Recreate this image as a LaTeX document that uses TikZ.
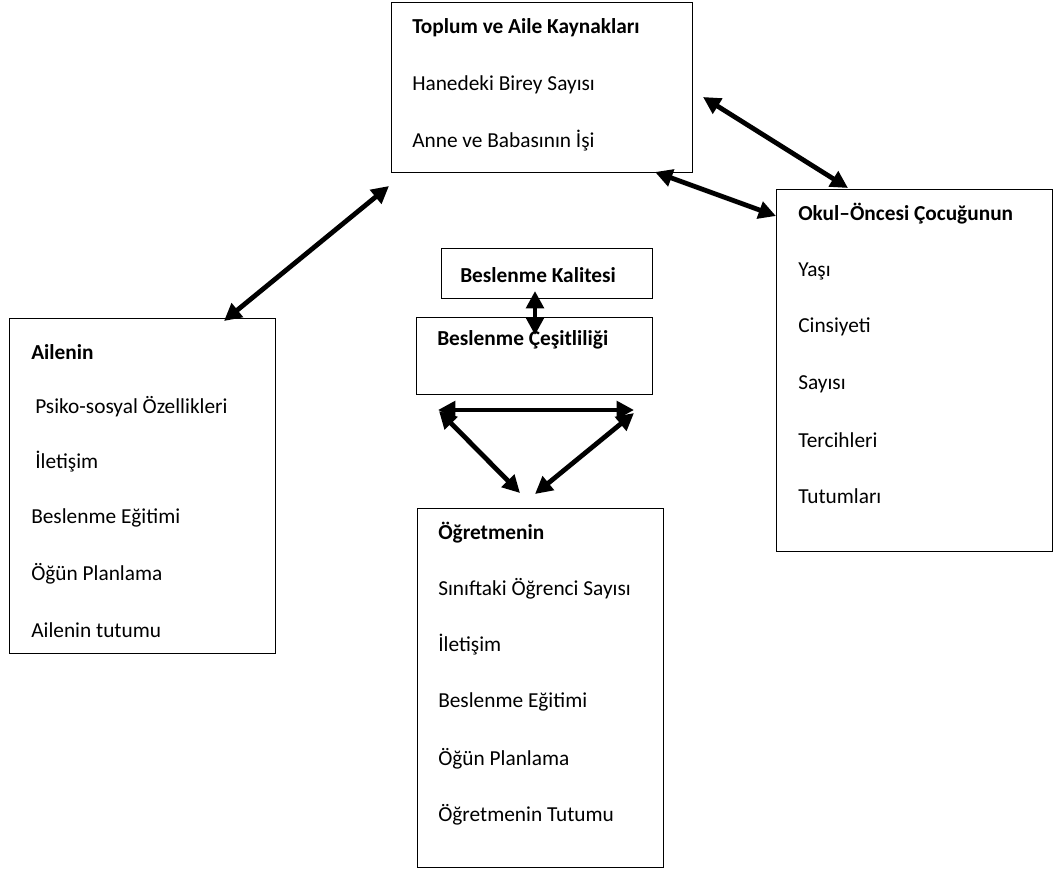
\documentclass[tikz,border=0pt]{standalone}
\usepackage{fontspec}
\setmainfont{Carlito}
\usetikzlibrary{arrows.meta}
\newcommand{\boxfont}{\fontsize{16}{19}\selectfont}
\tikzset{
  box/.style={draw, line width=1.1pt, anchor=north west, inner sep=0pt},
  head/.style={font=\boxfont\bfseries, anchor=west, inner sep=0pt},
  item/.style={font=\boxfont, anchor=west, inner sep=0pt},
  link/.style={{Triangle[length=13pt,width=13pt]}-{Triangle[length=13pt,width=13pt]}, line width=3.6pt}
}
\begin{document}
\begin{tikzpicture}[x=0.75pt, y=-0.75pt]
\useasboundingbox (0,0) rectangle (1054,872);
% Boxes
\node[box, minimum width=301*0.75pt, minimum height=170*0.75pt] (kaynak) at (391,2) {};
\node[box, minimum width=276*0.75pt, minimum height=362*0.75pt] (cocuk) at (776,189) {};
\node[box, minimum width=266*0.75pt, minimum height=335*0.75pt] (aile) at (9,318) {};
\node[box, minimum width=211*0.75pt, minimum height=50*0.75pt] (kalite) at (441,248) {};
\node[box, minimum width=236*0.75pt, minimum height=77*0.75pt] (cesit) at (416,317) {};
\node[box, minimum width=246*0.75pt, minimum height=359*0.75pt] (ogretmen) at (417,508) {};

% Texts
\node[head] (kaynak0) at (412,28) {Toplum ve Aile Kaynakları};
\node[item] (kaynak1) at (412,85) {Hanedeki Birey Sayısı};
\node[item] (kaynak2) at (412,141) {Anne ve Babasının İşi};

\node[head] (cocuk0) at (798,214) {Okul–Öncesi Çocuğunun};
\node[item] (cocuk1) at (798,271) {Yaşı};
\node[item] (cocuk2) at (798,327) {Cinsiyeti};
\node[item] (cocuk3) at (798,384) {Sayısı};
\node[item] (cocuk4) at (798,440) {Tercihleri};
\node[item] (cocuk5) at (798,496) {Tutumları};

\node[head] (aile0) at (31,352) {Ailenin};
\node[item] (aile1) at (35,407) {Psiko-sosyal Özellikleri};
\node[item] (aile2) at (35,462) {İletişim};
\node[item] (aile3) at (31,518) {Beslenme Eğitimi};
\node[item] (aile4) at (31,574) {Öğün Planlama};
\node[item] (aile5) at (31,630) {Ailenin tutumu};

\node[head] (kalite0) at (460,275) {Beslenme Kalitesi};
\node[head] (cesit0) at (437,340) {Beslenme Çeşitliliği};

\node[head] (ogretmen0) at (438,533) {Öğretmenin};
\node[item] (ogretmen1) at (438,589) {Sınıftaki Öğrenci Sayısı};
\node[item] (ogretmen2) at (438,645) {İletişim};
\node[item] (ogretmen3) at (438,702) {Beslenme Eğitimi};
\node[item] (ogretmen4) at (438,759) {Öğün Planlama};
\node[item] (ogretmen5) at (438,815) {Öğretmenin Tutumu};

% Arrow ends
\coordinate (a1) at (224,321);
\coordinate (a2) at (389,186);
\coordinate (b1) at (703,97);
\coordinate (b2) at (848,188);
\coordinate (c1) at (655,172);
\coordinate (c2) at (776,216);
\coordinate (d1) at (535,291);
\coordinate (d2) at (535,335);
\coordinate (e1) at (438,410);
\coordinate (e2) at (634,410);
\coordinate (f1) at (439,411);
\coordinate (f2) at (520,493);
\coordinate (g1) at (634,413);
\coordinate (g2) at (535,494);

% Arrows
\draw[link] (a1) -- (a2);
\draw[link] (b1) -- (b2);
\draw[link] (c1) -- (c2);
\draw[link] (d1) -- (d2);
\draw[link] (e1) -- (e2);
\draw[link] (f1) -- (f2);
\draw[link] (g1) -- (g2);
\end{tikzpicture}
\end{document}
